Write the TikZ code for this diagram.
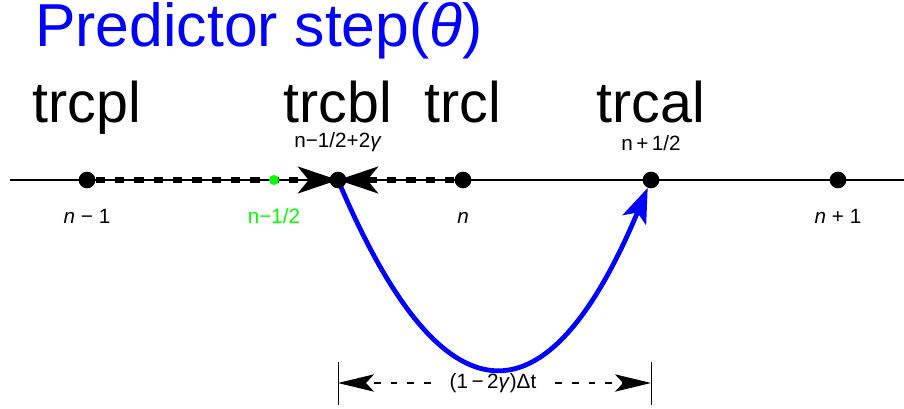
\documentclass[tikz,border=0pt]{standalone}
\usepackage{fontspec}
\setmainfont{Liberation Sans}
\usetikzlibrary{arrows.meta,backgrounds}
\definecolor{pblue}{HTML}{0000FF}
\definecolor{pgreen}{HTML}{00FF00}

\begin{document}
\begin{tikzpicture}[x=0.75pt,y=-0.75pt,
  dot/.style={circle,fill=black,inner sep=0pt,minimum size=12.5pt},
  halfdot/.style={circle,fill=pgreen,inner sep=0pt,minimum size=7.5pt},
  big/.style={anchor=base,inner sep=0pt,font=\fontsize{43}{43}\selectfont},
  small/.style={anchor=base,inner sep=0pt,font=\fontsize{15.5}{15.5}\selectfont},
  dasharr/.style={-{Stealth[length=30pt,width=20pt,inset=8pt]},line width=4pt,dash pattern=on 7pt off 7.5pt},
  flow/.style={-{Stealth[length=26pt,width=19pt,inset=6pt]},draw=pblue,line width=3.6pt},
  dimarr/.style={-{Stealth[length=27pt,width=13pt,inset=6pt]},line width=0.8pt,dash pattern=on 5pt off 7.5pt,shorten <=12pt}]
  \useasboundingbox (0,0) rectangle (904,409);
  % title
  \node[anchor=base west,inner sep=0pt,text=pblue,font=\fontsize{45.5}{45.5}\selectfont] (title) at (35,47) {Predictor step(\textit{θ})};
  % grid points on the time axis
  \coordinate (axl) at (10,180);
  \coordinate (axr) at (904,180);
  \node[dot] (pm1) at (87,180) {};
  \node[halfdot] (ph) at (274,180) {};
  \node[dot] (pb) at (338,180) {};
  \node[dot] (pn) at (463,180) {};
  \node[dot] (pa) at (651,180) {};
  \node[dot] (pp1) at (838,180) {};
  % stage names
  \node[big] (lpm1) at (87,123) {trcpl};
  \node[big] (lpb) at (338,123) {trcbl};
  \node[big] (lpn) at (463,123) {trcl};
  \node[big] (lpa) at (651,123) {trcal};
  \node[small] (spb) at (338,148) {n−1/2+2\textit{γ}};
  \node[small] (spa) at (651,151) {n\,+\,1/2};
  % time levels
  \node[small] (tm1) at (87,224) {\textit{n} − 1};
  \node[small,text=pgreen] (th) at (274,224) {n−1/2};
  \node[small] (tn) at (463,224) {\textit{n}};
  \node[small] (tp1) at (838,224) {\textit{n} + 1};
  % step length
  \coordinate (tl0) at (338,362);
  \coordinate (tl1) at (338,405);
  \coordinate (tr0) at (651,362);
  \coordinate (tr1) at (651,405);
  \coordinate (dl) at (338,383);
  \coordinate (dr) at (651,383);
  \node[small,anchor=center,inner sep=2pt] (dt) at (493,383) {(1\,−\,2\textit{γ})Δt};
  \begin{scope}[on background layer]
    \draw[line width=0.8pt] (axl) -- (axr);
    \draw[dasharr] (pm1) -- (pb.center);
    \draw[dasharr] (pn) -- (pb.center);
    \draw[flow] (pb.center) .. controls (443,429) and (547,429) .. (pa);
  \end{scope}
  \draw[line width=0.6pt] (tl0) -- (tl1);
  \draw[line width=0.6pt] (tr0) -- (tr1);
  \draw[dimarr] (dt) -- (dl);
  \draw[dimarr] (dt) -- (dr);
\end{tikzpicture}
\end{document}
